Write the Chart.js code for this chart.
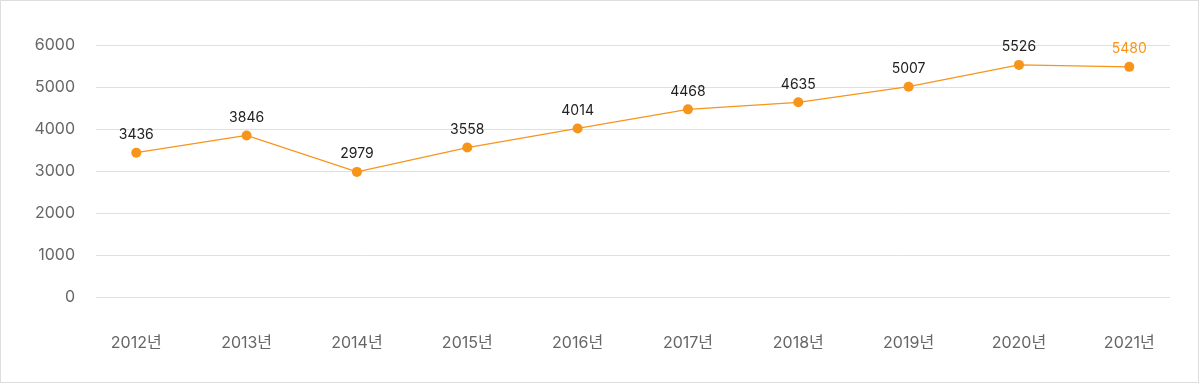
<!DOCTYPE html>
<html lang="ko">
  <head>
    <meta charset="UTF-8" />
    <title>연도별 추이</title>
    <script src="https://cdn.jsdelivr.net/npm/chart.js"></script>
    <style>
      body {
        margin: 0;
        background: #fff;
      }
      .chart-box {
        position: absolute;
        left: 0;
        top: 0;
        width: 1199px;
        height: 383px;
        border: 1px solid #dedede;
        box-sizing: border-box;
      }
    </style>
  </head>
  <body>
    <div class="chart-box">
      <canvas id="trendChart" width="1197" height="381"></canvas>
    </div>

    <script>
      const years = ["2012년", "2013년", "2014년", "2015년", "2016년", "2017년", "2018년", "2019년", "2020년", "2021년"];
      const values = [3436, 3846, 2979, 3558, 4014, 4468, 4635, 5007, 5526, 5480];
      const yTicks = [0, 1000, 2000, 3000, 4000, 5000, 6000];

      const FONT = "Inter, 'Noto Sans CJK KR', sans-serif";
      const ORANGE = "#f7941a";

      // value labels above each point, last one highlighted
      const valueLabels = {
        id: "valueLabels",
        afterDatasetsDraw(chart) {
          const ctx = chart.ctx;
          const meta = chart.getDatasetMeta(0);
          ctx.save();
          ctx.font = "14px " + FONT;
          ctx.textAlign = "center";
          ctx.textBaseline = "middle";
          meta.data.forEach((pt, i) => {
            ctx.fillStyle = i === values.length - 1 ? ORANGE : "#222";
            ctx.fillText(String(values[i]), pt.x, pt.y - 18);
          });
          ctx.restore();
        }
      };

      new Chart(document.getElementById("trendChart"), {
        type: "line",
        data: {
          datasets: [
            {
              data: values.map((v, i) => ({ x: i, y: v })),
              borderColor: ORANGE,
              backgroundColor: ORANGE,
              borderWidth: 1.2,
              pointRadius: 5,
              pointHoverRadius: 5,
              pointBorderWidth: 0,
              tension: 0
            }
          ]
        },
        options: {
          responsive: false,
          animation: false,
          layout: { padding: { top: 44, right: 28, left: 0, bottom: 0 } },
          plugins: { legend: { display: false }, tooltip: { enabled: false } },
          scales: {
            x: {
              type: "linear",
              min: -0.365,
              max: 9.369,
              grid: { display: false },
              border: { display: false },
              afterBuildTicks: (scale) => {
                scale.ticks = years.map((_, i) => ({ value: i }));
              },
              afterFit: (scale) => {
                scale.height = 85;
              },
              ticks: {
                padding: 29,
                color: "#666",
                font: { size: 16, family: FONT },
                maxRotation: 0,
                callback: (v) => years[v]
              }
            },
            y: {
              min: 0,
              max: 6000,
              grid: { color: "#e0e0e0", drawTicks: false },
              border: { display: false },
              afterBuildTicks: (scale) => {
                scale.ticks = yTicks.map((v) => ({ value: v }));
              },
              afterFit: (scale) => {
                scale.width = 95;
              },
              ticks: {
                padding: 21,
                color: "#666",
                font: { size: 16, family: FONT },
                callback: (v) => String(v)
              }
            }
          }
        },
        plugins: [valueLabels]
      });
    </script>
  </body>
</html>
